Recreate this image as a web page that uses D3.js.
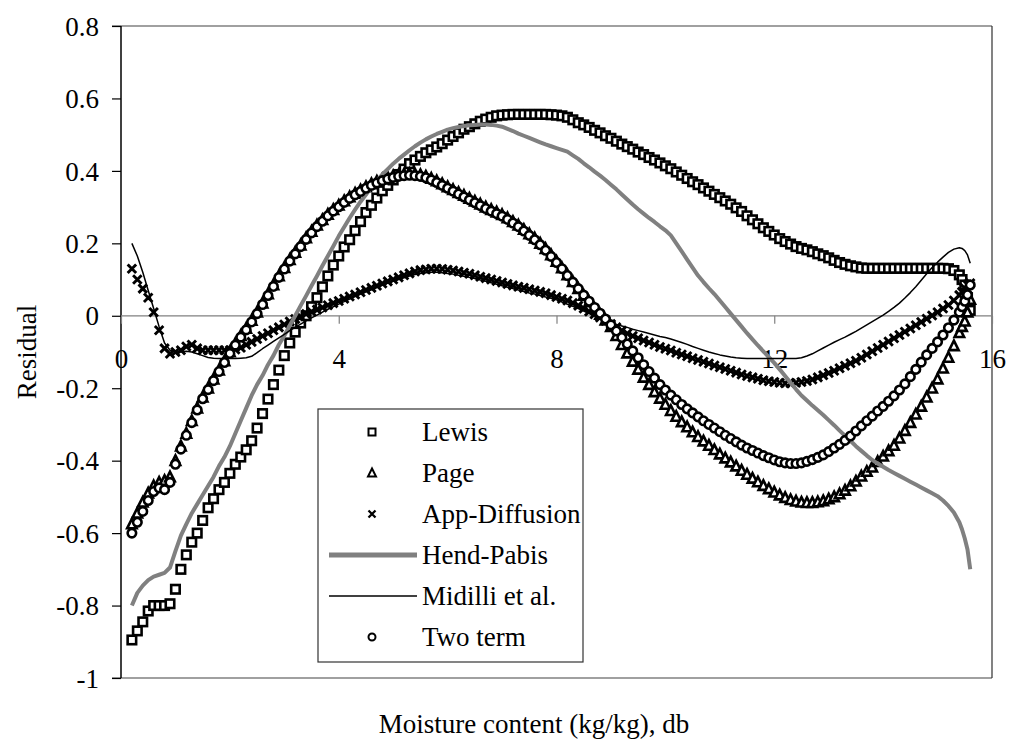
<!DOCTYPE html>
<html><head><meta charset="utf-8">
<script src="https://cdn.jsdelivr.net/npm/d3@7"></script>
<style>body{margin:0;background:#fff}svg{display:block}svg text{font-family:"Liberation Serif","Times New Roman",serif !important;fill:#000}</style>
</head><body>
<svg id="c" width="1009" height="743"></svg>
<script>
const moisture = [
0.2,0.3,0.4,0.5,0.6,0.7,0.8,0.9,
1.0,1.1,1.2,1.3,1.4,1.5,1.6,1.7,1.8,1.9,
2.0,2.1,2.2,2.3,2.4,2.5,2.6,2.7,2.8,2.9,
3.0,3.1,3.2,3.3,3.4,3.5,3.6,3.7,3.8,3.9,
4.0,4.1,4.2,4.3,4.4,4.5,4.6,4.7,4.8,4.9,
5.0,5.1,5.2,5.3,5.4,5.5,5.6,5.7,5.8,5.9,
6.0,6.1,6.2,6.3,6.4,6.5,6.6,6.7,6.8,6.9,
7.0,7.1,7.2,7.3,7.4,7.5,7.6,7.7,7.8,7.9,
8.0,8.1,8.2,8.3,8.4,8.5,8.6,8.7,8.8,8.9,
9.0,9.1,9.2,9.3,9.4,9.5,9.6,9.7,9.8,9.9,
10.0,10.1,10.2,10.3,10.4,10.5,10.6,10.7,10.8,10.9,
11.0,11.1,11.2,11.3,11.4,11.5,11.6,11.7,11.8,11.9,
12.0,12.1,12.2,12.3,12.4,12.5,12.6,12.7,12.8,12.9,
13.0,13.1,13.2,13.3,13.4,13.5,13.6,13.7,13.8,13.9,
14.0,14.1,14.2,14.3,14.4,14.5,14.6,14.7,14.8,14.9,
15.0,15.1,15.2,15.3,15.4,15.45,15.5,15.55,15.6];

const lewis = [
-0.895,-0.87,-0.845,-0.815,-0.80,-0.80,-0.80,-0.795,
-0.755,-0.70,-0.66,-0.625,-0.60,-0.565,-0.53,-0.505,-0.48,-0.46,
-0.435,-0.41,-0.39,-0.37,-0.345,-0.31,-0.27,-0.23,-0.19,-0.15,
-0.11,-0.075,-0.045,-0.02,0.0,0.025,0.05,0.08,0.11,0.14,
0.165,0.19,0.21,0.235,0.26,0.285,0.305,0.325,0.345,0.36,
0.375,0.39,0.405,0.42,0.43,0.44,0.45,0.458,0.466,0.475,
0.485,0.495,0.505,0.515,0.522,0.53,0.537,0.543,0.548,0.552,
0.554,0.555,0.556,0.556,0.556,0.556,0.556,0.556,0.556,0.555,
0.554,0.552,0.548,0.541,0.533,0.527,0.52,0.512,0.505,0.497,
0.49,0.482,0.474,0.467,0.46,0.452,0.445,0.437,0.43,0.422,
0.414,0.406,0.397,0.388,0.379,0.37,0.362,0.353,0.344,0.335,
0.326,0.317,0.308,0.298,0.288,0.276,0.265,0.254,0.243,0.233,
0.223,0.213,0.205,0.198,0.191,0.186,0.182,0.177,0.171,0.166,
0.16,0.153,0.147,0.142,0.138,0.135,0.132,0.131,0.131,0.131,
0.131,0.131,0.131,0.131,0.131,0.131,0.131,0.131,0.131,0.131,
0.131,0.131,0.13,0.125,0.113,0.1,0.085,0.05,0.015];

const page = [
-0.575,-0.545,-0.515,-0.49,-0.47,-0.46,-0.455,-0.445,
-0.40,-0.36,-0.325,-0.29,-0.255,-0.225,-0.20,-0.175,-0.15,-0.125,
-0.10,-0.077,-0.055,-0.035,-0.013,0.01,0.035,0.06,0.085,0.11,
0.133,0.155,0.175,0.195,0.215,0.233,0.25,0.265,0.28,0.293,
0.305,0.317,0.328,0.338,0.347,0.356,0.364,0.371,0.377,0.382,
0.386,0.389,0.391,0.392,0.391,0.389,0.385,0.379,0.372,0.364,
0.356,0.348,0.34,0.332,0.324,0.316,0.308,0.30,0.293,0.286,
0.279,0.27,0.26,0.25,0.238,0.226,0.214,0.2,0.185,0.168,
0.15,0.132,0.113,0.094,0.075,0.056,0.038,0.02,0.004,-0.012,
-0.03,-0.055,-0.08,-0.103,-0.126,-0.148,-0.17,-0.19,-0.21,-0.228,
-0.245,-0.262,-0.278,-0.293,-0.307,-0.321,-0.334,-0.346,-0.358,-0.37,
-0.382,-0.393,-0.404,-0.415,-0.427,-0.438,-0.449,-0.459,-0.469,-0.478,
-0.487,-0.495,-0.502,-0.508,-0.512,-0.515,-0.516,-0.516,-0.514,-0.511,
-0.506,-0.5,-0.492,-0.482,-0.47,-0.457,-0.443,-0.43,-0.418,-0.403,
-0.388,-0.373,-0.358,-0.338,-0.317,-0.295,-0.272,-0.25,-0.225,-0.2,
-0.175,-0.145,-0.115,-0.083,-0.047,-0.03,-0.015,0.01,0.045];

const appDiffusion = [
0.13,0.10,0.075,0.05,0.01,-0.04,-0.09,-0.105,
-0.10,-0.095,-0.085,-0.08,-0.09,-0.095,-0.095,-0.095,-0.095,-0.095,
-0.095,-0.093,-0.088,-0.08,-0.072,-0.064,-0.056,-0.048,-0.04,-0.032,
-0.024,-0.016,-0.009,-0.002,0.005,0.011,0.017,0.023,0.029,0.035,
0.041,0.047,0.053,0.059,0.065,0.071,0.077,0.083,0.089,0.095,
0.10,0.106,0.112,0.117,0.122,0.126,0.128,0.13,0.13,0.129,
0.127,0.125,0.122,0.119,0.116,0.112,0.108,0.104,0.1,0.096,
0.092,0.088,0.084,0.08,0.077,0.073,0.07,0.066,0.062,0.057,
0.052,0.047,0.042,0.035,0.028,0.02,0.012,0.004,-0.005,-0.014,
-0.023,-0.032,-0.041,-0.049,-0.056,-0.062,-0.068,-0.074,-0.08,-0.086,
-0.091,-0.096,-0.102,-0.107,-0.112,-0.117,-0.122,-0.127,-0.132,-0.137,
-0.142,-0.147,-0.152,-0.157,-0.162,-0.166,-0.17,-0.174,-0.178,-0.181,
-0.183,-0.185,-0.186,-0.186,-0.185,-0.183,-0.18,-0.176,-0.17,-0.164,
-0.158,-0.152,-0.145,-0.138,-0.131,-0.124,-0.116,-0.107,-0.098,-0.089,
-0.08,-0.071,-0.062,-0.053,-0.044,-0.035,-0.026,-0.017,-0.008,0.001,
0.01,0.02,0.03,0.042,0.057,0.066,0.076,0.086,0.09];

const hendPabis = [
-0.80,-0.765,-0.745,-0.73,-0.72,-0.715,-0.71,-0.695,
-0.65,-0.607,-0.575,-0.545,-0.52,-0.495,-0.47,-0.445,-0.415,-0.39,
-0.36,-0.325,-0.29,-0.255,-0.22,-0.19,-0.165,-0.135,-0.11,-0.08,
-0.055,-0.027,0.0,0.028,0.055,0.083,0.11,0.138,0.165,0.192,
0.22,0.245,0.27,0.293,0.315,0.335,0.355,0.373,0.39,0.405,
0.42,0.433,0.445,0.457,0.468,0.478,0.487,0.495,0.502,0.508,
0.514,0.518,0.521,0.524,0.526,0.527,0.528,0.528,0.527,0.525,
0.522,0.516,0.51,0.503,0.497,0.491,0.485,0.479,0.473,0.468,
0.463,0.458,0.453,0.443,0.433,0.421,0.41,0.398,0.387,0.375,
0.362,0.349,0.335,0.321,0.307,0.294,0.282,0.27,0.259,0.247,
0.236,0.222,0.2,0.178,0.155,0.133,0.111,0.093,0.076,0.06,
0.042,0.024,0.006,-0.012,-0.03,-0.048,-0.065,-0.082,-0.098,-0.114,
-0.13,-0.148,-0.166,-0.185,-0.203,-0.22,-0.234,-0.248,-0.261,-0.274,
-0.288,-0.302,-0.317,-0.331,-0.345,-0.36,-0.373,-0.386,-0.398,-0.408,
-0.417,-0.426,-0.434,-0.442,-0.45,-0.458,-0.466,-0.474,-0.482,-0.49,
-0.498,-0.51,-0.525,-0.543,-0.57,-0.59,-0.615,-0.645,-0.70];

const midilli = [
0.20,0.165,0.12,0.07,0.02,-0.03,-0.075,-0.095,
-0.10,-0.10,-0.098,-0.10,-0.105,-0.11,-0.115,-0.117,-0.118,-0.118,
-0.118,-0.118,-0.117,-0.116,-0.112,-0.102,-0.091,-0.081,-0.071,-0.061,
-0.051,-0.041,-0.032,-0.023,-0.014,-0.006,0.002,0.01,0.018,0.025,
0.032,0.039,0.046,0.053,0.06,0.066,0.072,0.078,0.084,0.09,
0.095,0.10,0.105,0.11,0.114,0.117,0.119,0.12,0.12,0.119,
0.117,0.115,0.112,0.109,0.106,0.103,0.099,0.095,0.091,0.087,
0.083,0.079,0.075,0.071,0.067,0.063,0.06,0.056,0.052,0.048,
0.044,0.038,0.032,0.026,0.02,0.013,0.006,-0.001,-0.008,-0.014,
-0.02,-0.024,-0.028,-0.032,-0.037,-0.041,-0.045,-0.049,-0.053,-0.057,
-0.06,-0.064,-0.069,-0.074,-0.079,-0.085,-0.09,-0.095,-0.1,-0.104,
-0.108,-0.111,-0.114,-0.116,-0.117,-0.118,-0.118,-0.118,-0.118,-0.118,
-0.118,-0.118,-0.118,-0.118,-0.118,-0.116,-0.111,-0.105,-0.097,-0.089,
-0.081,-0.073,-0.066,-0.059,-0.051,-0.043,-0.034,-0.025,-0.016,-0.007,
0.002,0.012,0.023,0.035,0.049,0.064,0.08,0.098,0.116,0.133,
0.148,0.162,0.175,0.184,0.188,0.186,0.18,0.168,0.145];

const twoTerm = [
-0.60,-0.57,-0.54,-0.51,-0.485,-0.475,-0.48,-0.46,
-0.41,-0.368,-0.33,-0.295,-0.26,-0.229,-0.204,-0.179,-0.154,-0.129,
-0.104,-0.081,-0.059,-0.039,-0.017,0.006,0.031,0.056,0.081,0.106,
0.129,0.151,0.171,0.191,0.211,0.229,0.246,0.261,0.276,0.289,
0.301,0.313,0.324,0.334,0.343,0.352,0.36,0.367,0.373,0.378,
0.382,0.385,0.387,0.388,0.387,0.385,0.381,0.375,0.368,0.36,
0.352,0.344,0.336,0.328,0.32,0.312,0.304,0.296,0.289,0.282,
0.275,0.266,0.256,0.246,0.234,0.222,0.21,0.196,0.181,0.164,
0.147,0.13,0.111,0.093,0.075,0.057,0.04,0.023,0.007,-0.009,
-0.025,-0.042,-0.06,-0.078,-0.097,-0.116,-0.135,-0.154,-0.172,-0.19,
-0.205,-0.219,-0.232,-0.245,-0.257,-0.268,-0.279,-0.29,-0.30,-0.31,
-0.32,-0.33,-0.339,-0.348,-0.357,-0.365,-0.372,-0.379,-0.386,-0.392,
-0.398,-0.403,-0.406,-0.408,-0.408,-0.406,-0.402,-0.397,-0.391,-0.384,
-0.375,-0.365,-0.355,-0.344,-0.332,-0.318,-0.304,-0.29,-0.277,-0.263,
-0.25,-0.236,-0.221,-0.205,-0.188,-0.168,-0.148,-0.128,-0.108,-0.09,
-0.072,-0.053,-0.033,-0.012,0.01,0.025,0.04,0.058,0.085];

const seriesNames = ["Lewis","Page","App-Diffusion","Hend-Pabis","Midilli et al.","Two term"];
const xTicks = [0,4,8,12,16];
const xTickLabels = ["0","4","8","12","16"];
const yTicks = [0.8,0.6,0.4,0.2,0,-0.2,-0.4,-0.6,-0.8,-1];
const yTickLabels = ["0.8","0.6","0.4","0.2","0","-0.2","-0.4","-0.6","-0.8","-1"];
const xTitle = "Moisture content (kg/kg), db";
const yTitle = "Residual";

const seriesData = [lewis, page, appDiffusion, hendPabis, midilli, twoTerm];
const seriesKind = ["square","triangle","cross","grayline","blackline","circle"];

const FONT = '"Liberation Serif", "Times New Roman", serif';
const FS = 27;

const svg = d3.select("#c");
svg.append("rect").attr("width",1009).attr("height",743).attr("fill","#fff");

const x = d3.scaleLinear().domain([0,16]).range([121,992]);
const y = d3.scaleLinear().domain([-1,0.8]).range([678,26]);

// plot frame
svg.append("line").attr("x1",112).attr("x2",992).attr("y1",y(0.8)).attr("y2",y(0.8)).attr("stroke","#808080").attr("stroke-width",1.3);
svg.append("line").attr("x1",112).attr("x2",992).attr("y1",y(-1)).attr("y2",y(-1)).attr("stroke","#808080").attr("stroke-width",1.3);
svg.append("line").attr("x1",x(16)).attr("x2",x(16)).attr("y1",y(0.8)).attr("y2",y(-1)).attr("stroke","#303030").attr("stroke-width",1.2);

// y axis
const yAxis = svg.append("g").attr("transform",`translate(${x(0)},0)`)
  .call(d3.axisLeft(y).tickValues(yTicks).tickSize(9).tickPadding(13)
    .tickFormat((d,i)=>yTickLabels[i]));
yAxis.attr("font-family",null).attr("font-size",null);
yAxis.select(".domain").attr("stroke","#000").attr("stroke-width",1.5).attr("d",`M0,${y(0.8)}V${y(-1)}`);
yAxis.selectAll(".tick line").attr("stroke","#000").attr("stroke-width",1.2);
yAxis.selectAll("text").style("font-family",FONT).style("font-size",FS+"px").attr("fill","#000").attr("dy","0.34em");

// x axis at y = 0
const xAxis = svg.append("g").attr("transform",`translate(0,${y(0)})`)
  .call(d3.axisBottom(x).tickValues(xTicks).tickSize(8).tickFormat((d,i)=>xTickLabels[i]));
xAxis.attr("font-family",null).attr("font-size",null);
xAxis.select(".domain").attr("stroke","#808080").attr("stroke-width",1.3).attr("d",`M${x(0)},0H${x(16)}`);
xAxis.selectAll(".tick line").attr("stroke","#808080").attr("stroke-width",1.2);
xAxis.selectAll("text").style("font-family",FONT).style("font-size",FS+"px").attr("fill","#000").attr("y",52).attr("dy",0);

// markers
function marker(g, kind, size, sw){
  const h = size/2;
  if(kind==="square") return g.append("rect").attr("x",-h).attr("y",-h).attr("width",size).attr("height",size).attr("fill","#fff").attr("stroke","#000").attr("stroke-width",sw);
  if(kind==="triangle") return g.append("path").attr("d",`M0,${-h-1}L${h+0.5},${h}L${-h-0.5},${h}Z`).attr("fill","#fff").attr("stroke","#000").attr("stroke-width",sw).attr("stroke-linejoin","miter");
  if(kind==="cross") return g.append("path").attr("d",`M${-h},${-h}L${h},${h}M${-h},${h}L${h},${-h}`).attr("fill","none").attr("stroke","#000").attr("stroke-width",sw+0.3);
  if(kind==="circle") return g.append("circle").attr("r",h).attr("fill","#fff").attr("stroke","#000").attr("stroke-width",sw);
}

const plot = svg.append("g");
seriesData.forEach((vals, si) => {
  const kind = seriesKind[si];
  const pts = moisture.map((m,i)=>[m, vals[i]]).filter(p=>p[1]!==undefined);
  if(kind==="grayline" || kind==="blackline"){
    const line = d3.line().x(p=>x(p[0])).y(p=>y(p[1]));
    plot.append("path").attr("d",line(pts)).attr("fill","none")
      .attr("stroke", kind==="grayline" ? "#808080" : "#000")
      .attr("stroke-width", kind==="grayline" ? 4 : 1.5)
      .attr("stroke-linejoin","round");
  } else {
    const g = plot.append("g");
    pts.forEach(p => {
      const mg = g.append("g").attr("transform",`translate(${x(p[0])},${y(p[1])})`);
      marker(mg, kind, 8.5, 2.6);
    });
  }
});

// legend
const lg = svg.append("g");
lg.append("rect").attr("x",318).attr("y",409).attr("width",265).attr("height",253).attr("fill","#fff").attr("stroke","#333").attr("stroke-width",1.2);
const legendY = [432,473,514,555,596,637];
seriesNames.forEach((name,i)=>{
  const kind = seriesKind[i];
  const cy = legendY[i];
  if(kind==="grayline" || kind==="blackline"){
    lg.append("line").attr("x1",329).attr("x2",417).attr("y1",cy).attr("y2",cy)
      .attr("stroke", kind==="grayline" ? "#808080" : "#000")
      .attr("stroke-width", kind==="grayline" ? 5 : 1.5);
  } else {
    const mg = lg.append("g").attr("transform",`translate(372,${cy})`);
    marker(mg, kind, 7, 2);
  }
  lg.append("text").attr("x",422).attr("y",cy).attr("dy","0.34em").style("font-family",FONT).style("font-size",FS+"px").text(name);
});

// titles
svg.append("text").attr("x",534).attr("y",733).attr("text-anchor","middle").style("font-family",FONT).style("font-size",FS+"px").text(xTitle);
svg.append("text").attr("transform","translate(36,352) rotate(-90)").attr("text-anchor","middle").style("font-family",FONT).style("font-size",FS+"px").text(yTitle);
</script>
</body></html>
